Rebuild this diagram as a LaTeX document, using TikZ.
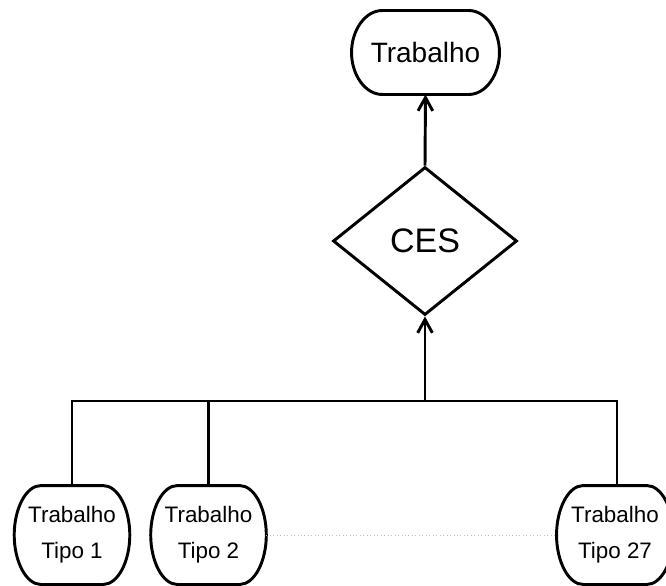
\documentclass[tikz,border=0pt]{standalone}
\usepackage{fontspec}
\setmainfont{Liberation Sans}
\usetikzlibrary{shapes.geometric,arrows.meta}
\newcommand\ovalframe[3]{% name, x radius, y radius (= half height)
  \draw ([xshift=#2]#1.north west) -- ([xshift=-#2]#1.north east)
    .. controls ([xshift=-0.4477*#2]#1.north east) and ([yshift=0.5523*#3]#1.east) .. (#1.east)
    .. controls ([yshift=-0.5523*#3]#1.east) and ([xshift=-0.4477*#2]#1.south east) .. ([xshift=-#2]#1.south east)
    -- ([xshift=#2]#1.south west)
    .. controls ([xshift=0.4477*#2]#1.south west) and ([yshift=-0.5523*#3]#1.west) .. (#1.west)
    .. controls ([yshift=0.5523*#3]#1.west) and ([xshift=0.4477*#2]#1.north west) .. cycle;}
\begin{document}
\begin{tikzpicture}[x=0.75pt,y=-0.75pt,
  line width=2.2pt,
  topbox/.style={minimum width=108.75pt,minimum height=60.75pt,inner sep=0pt,font=\fontsize{21}{25}\selectfont},
  leafbox/.style={minimum width=84.5pt,minimum height=72pt,inner sep=0pt,align=center,font=\fontsize{16.8}{27}\selectfont},
  cesbox/.style={draw,diamond,minimum width=138pt,minimum height=111pt,inner sep=0pt,font=\fontsize{25.5}{30}\selectfont},
  arr/.style={-{Straight Barb[length=10pt,width=11pt,line width=2.2pt]}}]
\useasboundingbox (0,0) rectangle (666,585);
\node[topbox] (top) at (425.5,52.5) {Trabalho};
\node[cesbox] (ces) at (425,241) {CES};
\node[leafbox] (t1) at (72,535) {Trabalho\\Tipo 1};
\node[leafbox] (t2) at (208.5,535) {Trabalho\\Tipo 2};
\node[leafbox,minimum width=85.5pt] (t27) at (615,535) {Trabalho\\Tipo 27};
\ovalframe{top}{23pt}{30.375pt}
\ovalframe{t1}{20pt}{36pt}
\ovalframe{t2}{20pt}{36pt}
\ovalframe{t27}{20pt}{36pt}
\coordinate (bl) at (72,401);
\coordinate (bm) at (208.5,401);
\coordinate (bc) at (425,401);
\coordinate (br) at (617,401);
\draw[arr] (ces.north) -- (top.south);
\draw[arr] (bc) -- (ces.south);
\draw (t1.north) -- (bl) -- (br) -- (br |- t27.north);
\draw (bm) -- (t2.north);
\draw[gray!50,line width=0.6pt,dotted] (t2.east) -- (t27.west);
\end{tikzpicture}
\end{document}
